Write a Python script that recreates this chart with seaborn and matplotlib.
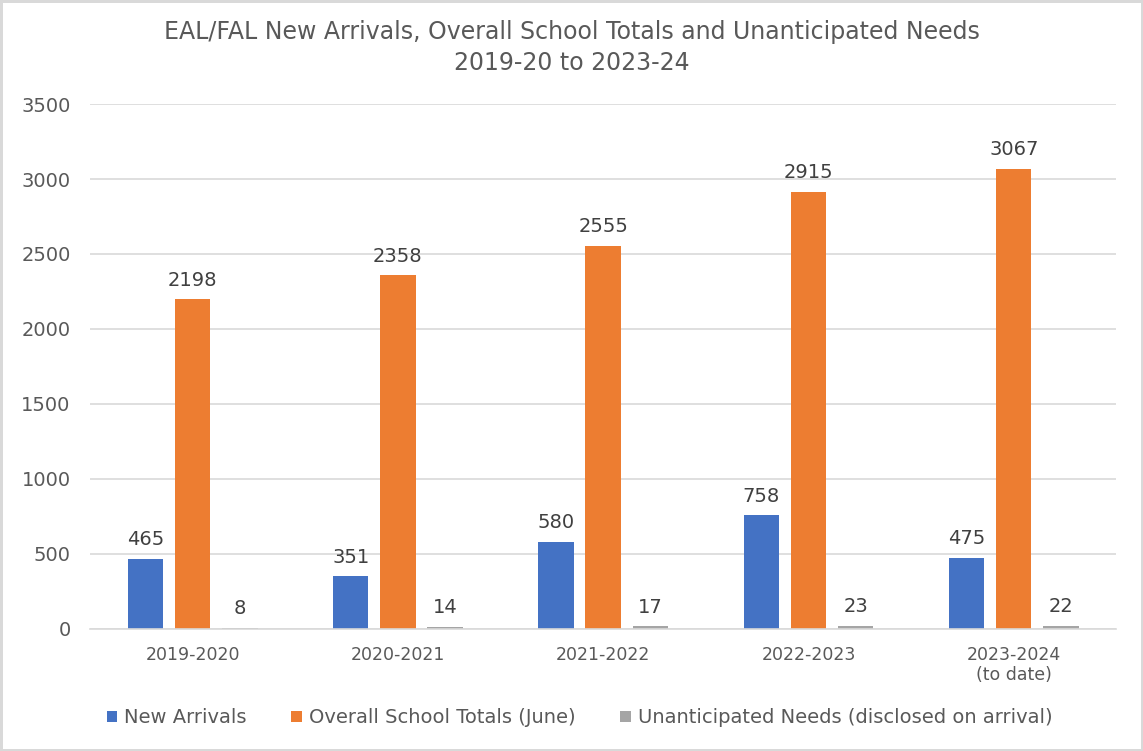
import matplotlib
matplotlib.use("Agg")
import matplotlib.pyplot as plt
import seaborn as sns
import pandas as pd

# Chart data
years = ["2019-2020", "2020-2021", "2021-2022", "2022-2023", "2023-2024\n(to date)"]
series_names = ["New Arrivals", "Overall School Totals (June)", "Unanticipated Needs (disclosed on arrival)"]
new_arrivals = [465, 351, 580, 758, 475]
school_totals = [2198, 2358, 2555, 2915, 3067]
unanticipated = [8, 14, 17, 23, 22]
y_ticks = [0, 500, 1000, 1500, 2000, 2500, 3000, 3500]

colors = ["#4472C4", "#ED7D31", "#A5A5A5"]

df = pd.DataFrame({
    "year": years * 3,
    "series": [series_names[0]] * 5 + [series_names[1]] * 5 + [series_names[2]] * 5,
    "value": new_arrivals + school_totals + unanticipated,
})

sns.set_theme(style="white")
plt.rcParams["font.family"] = ["DejaVu Sans"]

fig = plt.figure(figsize=(11.43, 7.51), dpi=100)
fig.patch.set_facecolor("white")
fig.patch.set_edgecolor("#D9D9D9")
fig.patch.set_linewidth(2.5)
ax = fig.add_axes([0.0787, 0.1625, 0.898, 0.699])

sns.barplot(data=df, x="year", y="value", hue="series", palette=colors,
            width=0.69, gap=0.25, ax=ax, legend=True, saturation=1, linewidth=0)

ax.set_ylim(0, 3500)
ax.set_yticks(y_ticks)
ax.set_yticklabels([str(t) for t in y_ticks], fontsize=14, color="#595959")
ax.tick_params(axis="x", labelsize=12.5, colors="#595959", length=0, pad=12)
ax.tick_params(axis="y", length=0, pad=14)
ax.yaxis.grid(True, color="#D9D9D9", linewidth=1.2)
ax.set_axisbelow(True)
for s in ["left", "right", "top"]:
    ax.spines[s].set_visible(False)
ax.spines["bottom"].set_color("#D9D9D9")
ax.spines["bottom"].set_linewidth(1.2)
ax.set_xlabel("")
ax.set_ylabel("")
ax.set_xlim(-0.5, 4.5)

for cont in ax.containers:
    ax.bar_label(cont, fmt="%d", padding=7, fontsize=14, color="#404040")

fig.text(0.5, 0.958, "EAL/FAL New Arrivals, Overall School Totals and Unanticipated Needs",
         ha="center", va="center", fontsize=17, color="#595959")
fig.text(0.5, 0.916, "2019-20 to 2023-24",
         ha="center", va="center", fontsize=17, color="#595959")

handles, labels = ax.get_legend_handles_labels()
ax.get_legend().remove()
fig.legend(handles, labels, loc="center", bbox_to_anchor=(0.507, 0.044), ncol=3,
           frameon=False, fontsize=14, handlelength=0.55, handleheight=0.55,
           handletextpad=0.35, columnspacing=2.3, labelcolor="#595959")

fig.savefig("out.png", dpi=100, facecolor=fig.get_facecolor(), edgecolor=fig.get_edgecolor())
